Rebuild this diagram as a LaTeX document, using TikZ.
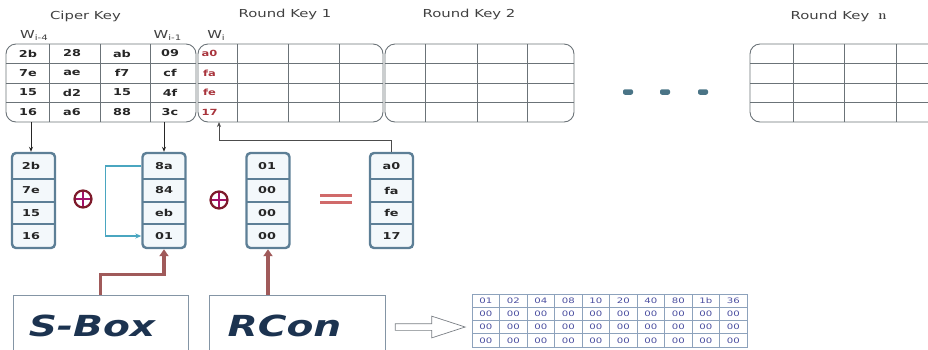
\documentclass[tikz,border=0pt]{standalone}
\usepackage{fontspec}
\setsansfont{DejaVu Sans}[FakeStretch=1.35]
\usetikzlibrary{arrows.meta, positioning, shapes.arrows}

\definecolor{gridgray}{HTML}{6B7378}
\definecolor{wordred}{HTML}{A8343C}
\definecolor{boxblue}{HTML}{5D7F96}
\definecolor{boxfill}{HTML}{F3F8FB}
\definecolor{xorred}{HTML}{7D1A2A}
\definecolor{feedbrown}{HTML}{A05A5A}
\definecolor{rotblue}{HTML}{4AA6C0}
\definecolor{navy}{HTML}{1C3350}
\definecolor{dotblue}{HTML}{4A7486}
\definecolor{tblborder}{HTML}{8DA2BC}
\definecolor{tbltext}{HTML}{4B4FA0}
\definecolor{srcgray}{HTML}{8495A5}
\definecolor{arrowgray}{HTML}{7A7F85}
\definecolor{eqred}{HTML}{D06A6A}

\newcommand{\wsub}[1]{\raisebox{-0.3ex}{\fontsize{7.5}{8}\selectfont #1}}

\begin{document}
\begin{tikzpicture}[x=1pt, y=-1pt, font=\sffamily,
    keyblock/.style={draw=gridgray, line width=0.9pt, rounded corners=10pt, minimum height=78pt, inner sep=0pt},
    gridline/.style={draw=gridgray, line width=0.9pt},
    title/.style={text=black!75, font=\sffamily\fontsize{11}{13}\selectfont},
    wlabel/.style={text=black!75, font=\sffamily\fontsize{11}{13}\selectfont},
    cell/.style={text=black!85, font=\sffamily\bfseries\fontsize{9.5}{11}\selectfont},
    newcell/.style={cell, text=wordred, font=\sffamily\bfseries\fontsize{8.5}{10}\selectfont},
    wordbox/.style={draw=boxblue, line width=2.4pt, fill=boxfill, rounded corners=4pt, minimum width=43pt, minimum height=95pt, inner sep=0pt},
    divider/.style={draw=boxblue, line width=1.6pt},
    xorop/.style={circle, draw=xorred, line width=2.2pt, minimum size=17pt, inner sep=0pt,
        path picture={\draw[xorred!70!magenta, line width=1.4pt] (path picture bounding box.north) -- (path picture bounding box.south) (path picture bounding box.west) -- (path picture bounding box.east);}},
    eqline/.style={draw=eqred, line width=2.4pt},
    keyarrow/.style={draw=black!85, line width=0.9pt, -{Stealth[length=5pt, width=4pt]}},
    backline/.style={draw=black!70, line width=0.8pt, -{Stealth[length=5pt, width=4pt]}},
    feed/.style={draw=feedbrown, line width=3.2pt, -{Triangle[length=7pt, width=9pt]}},
    rotline/.style={draw=rotblue, line width=1.5pt, -{Stealth[length=6pt, width=5pt]}},
    srcbox/.style={draw=srcgray, line width=0.7pt, minimum height=56pt, inner sep=0pt},
    srctext/.style={text=navy, font=\sffamily\bfseries\itshape\fontsize{29}{32}\selectfont},
    tcell/.style={draw=tblborder, line width=0.6pt, minimum width=27.5pt, minimum height=13.25pt, inner sep=0pt, text=tbltext, font=\sffamily\fontsize{7.5}{8}\selectfont},
    gapdot/.style={fill=dotblue, rounded corners=2pt, minimum width=10pt, minimum height=5.5pt, inner sep=0pt}]

    \clip (0,0) rectangle (928,349);

    % key schedule blocks
    \node[keyblock, minimum width=190pt] (ck) at (101,83) {};
    \node[keyblock, minimum width=185pt] (rk1) at (290.5,83) {};
    \node[keyblock, minimum width=189pt] (rk2) at (479.5,83) {};
    \node[keyblock, minimum width=202pt] (rkn) at (851,83) {};
    \foreach \xa/\xb in {6/196, 198/383, 385/574, 750/952}
        \foreach \y in {63.5,83,102.5}
            \draw[gridline] (\xa,\y) -- (\xb,\y);
    \foreach \x in {49,100,150,237,288,339,425,477,527,793,844,896}
        \draw[gridline] (\x,44) -- (\x,122);

    \node[title] (ckt) at (85.5,16.5) {Ciper Key};
    \node[title] (rk1t) at (285,14.5) {Round Key 1};
    \node[title] (rk2t) at (469,14.5) {Round Key 2};
    \node[title] (rknt) at (838.5,16.5) {Round Key\hspace{9pt}{\rmfamily\bfseries\fontsize{13}{14}\selectfont n}};

    \node[wlabel] (w4) at (34,35.5) {W\wsub{i-4}};
    \node[wlabel] (w1) at (167.5,35.5) {W\wsub{i-1}};
    \node[wlabel] (w0) at (216,35.5) {W\wsub{i}};

    \foreach \a/\b/\c/\d/\w [count=\r] in {2b/28/ab/09/a0, 7e/ae/f7/cf/fa, 15/d2/15/4f/fe, 16/a6/88/3c/17} {
        \node[cell] (k\r-1) at (28,34+19.5*\r) {\a};
        \node[cell] (k\r-2) at (72,34+19.5*\r) {\b};
        \node[cell] (k\r-3) at (122,34+19.5*\r) {\c};
        \node[cell] (k\r-4) at (170,34+19.5*\r) {\d};
        \node[newcell] (k\r-5) at (209.5,34+19.5*\r) {\w};
    }

    \foreach \x [count=\i] in {628,665,703}
        \node[gapdot] (dot\i) at (\x,92) {};

    % one step of the expansion
    \node[wordbox] (c1) at (33.5,200.5) {};
    \node[wordbox] (c2) at (164,200.5) {};
    \node[wordbox] (c3) at (268,200.5) {};
    \node[wordbox] (c4) at (391.5,200.5) {};
    \foreach \cx in {33.5,164,268,391.5}
        \foreach \y in {179,202,224}
            \draw[divider] (\cx-21.5,\y) -- (\cx+21.5,\y);

    \foreach \a/\b/\c/\d/\y [count=\r] in {2b/8a/01/a0/166, 7e/84/00/fa/190.5, 15/eb/00/fe/213, 16/01/00/17/236} {
        \node[cell] (m\r-1) at (31,\y) {\a};
        \node[cell] (m\r-2) at (164,\y) {\b};
        \node[cell] (m\r-3) at (267,\y) {\c};
        \node[cell] (m\r-4) at (391.5,\y) {\d};
    }

    \node[xorop] (xor1) at (83,199) {};
    \node[xorop] (xor2) at (219,200) {};
    \draw[eqline] (320,195.5) -- (352,195.5) (320,202.5) -- (352,202.5);

    \draw[keyarrow] (ck.south -| m1-1) -- (c1.north -| m1-1);
    \draw[keyarrow] (ck.south -| c2.north) -- (c2.north);
    \coordinate (wi-in) at (219,122);
    \draw[backline] (c4.north) |- ([yshift=-18pt]wi-in) -- (wi-in);
    \draw[rotline] (c2.west |- m1-2) -- ++(-36,0) |- (c2.west |- m4-2);

    % sources
    \node[srcbox, minimum width=175pt] (sbox) at (100.5,323) {};
    \node[srctext] (sboxt) at (92,325.5) {S-Box};
    \node[srcbox, minimum width=176pt] (rcon) at (297,323) {};
    \node[srctext] (rcont) at (284.5,325.5) {RCon};
    \draw[feed] (sbox.north) |- ([yshift=-25pt]c2.south) -- (c2.south);
    \draw[feed] (rcon.north -| c3.south) -- (c3.south);

    \node[single arrow, draw=arrowgray, line width=0.7pt, fill=white, minimum height=70pt, minimum width=21pt,
        single arrow head extend=7.5pt, single arrow tip angle=36, inner xsep=0pt, inner ysep=3pt] (totable) at (425,327) {};

    \foreach \v [count=\c] in {01,02,04,08,10,20,40,80,1b,36} {
        \node[tcell] (t1-\c) at (458.25+27.5*\c,300.6) {\v};
        \foreach \r in {2,3,4}
            \node[tcell] (t\r-\c) at (458.25+27.5*\c,287.4+13.25*\r) {00};
    }
\end{tikzpicture}
\end{document}
